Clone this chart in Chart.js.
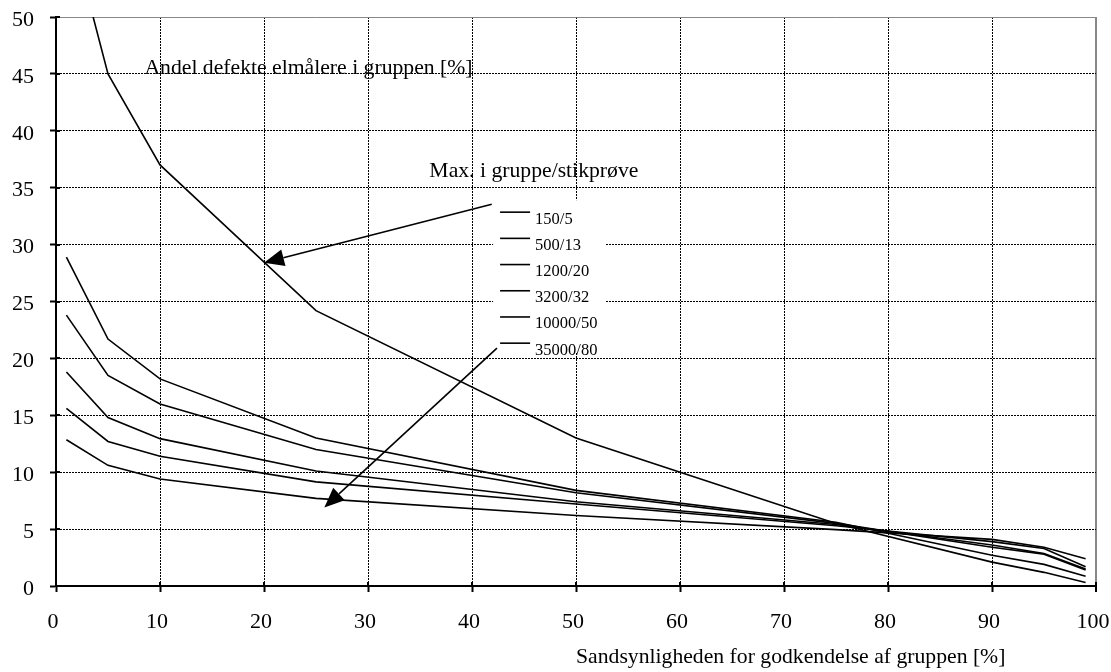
<!DOCTYPE html>
<html>
<head>
<meta charset="utf-8">
<script src="https://cdn.jsdelivr.net/npm/chart.js@4"></script>
<style>
  html, body { margin: 0; padding: 0; background: #fff; }
  #wrap { width: 1111px; height: 672px; }
</style>
</head>
<body>
<div id="wrap"><canvas id="chart"></canvas></div>
<script>
// acceptance probability [%] where the curves are tabulated
const acceptProb = [1, 5, 10, 25, 50, 75, 90, 95, 99];

// max group size / sample size
const groupLabels = ['150/5', '500/13', '1200/20', '3200/32', '10000/50', '35000/80'];

// share of defective meters in the group [%]
const defects150 = [59, 45, 37, 24.2, 13, 5.5, 2.1, 1.2, 0.3];
const defects500 = [28.9, 21.7, 18.2, 13, 8.4, 5.6, 2.7, 1.9, 0.85];
const defects1200 = [23.8, 18.5, 16, 12, 8.2, 5.5, 3.4, 2.8, 1.4];
const defects3200 = [18.8, 14.8, 12.95, 10.1, 7.4, 5.4, 3.6, 2.85, 1.5];
const defects10000 = [15.6, 12.7, 11.4, 9.15, 7.2, 5.3, 3.9, 3.3, 1.7];
const defects35000 = [12.85, 10.6, 9.4, 7.7, 6.2, 4.95, 4.1, 3.4, 2.4];

const allDefects = [defects150, defects500, defects1200, defects3200, defects10000, defects35000];

const xTicks = [0, 10, 20, 30, 40, 50, 60, 70, 80, 90, 100];
const yTicks = [0, 5, 10, 15, 20, 25, 30, 35, 40, 45, 50];

const FONT = '"Liberation Serif", "Times New Roman", serif';

const datasets = allDefects.map((vals, i) => ({
    label: groupLabels[i],
    data: vals.map((v, j) => ({x: acceptProb[j], y: v})),
    borderColor: '#000',
    borderWidth: 1.6,
    pointRadius: 0,
    tension: 0,
    fill: false
}));

function arrow(ctx, x1, y1, x2, y2) {
    const ang = Math.atan2(y2 - y1, x2 - x1);
    const len = 20, half = 8.5;
    const bx = x2 - len * Math.cos(ang), by = y2 - len * Math.sin(ang);
    ctx.beginPath();
    ctx.moveTo(x1, y1);
    ctx.lineTo(bx, by);
    ctx.stroke();
    ctx.beginPath();
    ctx.moveTo(x2, y2);
    ctx.lineTo(bx + half * Math.sin(ang), by - half * Math.cos(ang));
    ctx.lineTo(bx - half * Math.sin(ang), by + half * Math.cos(ang));
    ctx.closePath();
    ctx.fill();
}

// legend box, labels, arrows and axis ticks crossing into the plot
const annotations = {
    id: 'annotations',
    beforeDatasetsDraw(chart) {
        const {ctx, scales: {x, y}} = chart;
        const lx = x.getPixelForValue(42.7);
        const ly = y.getPixelForValue(32.85);
        ctx.save();
        ctx.fillStyle = '#fff';
        ctx.fillRect(lx - 7, ly - 12, 112, 152);
        ctx.restore();
    },
    afterDraw(chart) {
        const {ctx, chartArea: a, scales: {x, y}} = chart;
        ctx.save();

        // small ticks on the inside of the axes
        ctx.strokeStyle = '#000';
        ctx.lineWidth = 2;
        xTicks.forEach(t => {
            const px = Math.round(x.getPixelForValue(t));
            ctx.beginPath();
            ctx.moveTo(px, a.bottom);
            ctx.lineTo(px, a.bottom - 4);
            ctx.stroke();
        });
        yTicks.forEach(t => {
            const py = Math.round(y.getPixelForValue(t));
            ctx.beginPath();
            ctx.moveTo(a.left, py);
            ctx.lineTo(a.left + 4, py);
            ctx.stroke();
        });

        ctx.fillStyle = '#000';
        ctx.textBaseline = 'alphabetic';
        ctx.textAlign = 'left';
        ctx.font = '21.7px ' + FONT;
        ctx.fillText('Andel defekte elmålere i gruppen [%]', x.getPixelForValue(8.5), y.getPixelForValue(45));
        ctx.fillText('Max. i gruppe/stikprøve', x.getPixelForValue(35.9), y.getPixelForValue(35.9));
        ctx.fillText('Sandsynligheden for godkendelse af gruppen [%]', x.getPixelForValue(50), chart.height - 9);

        // legend rows
        const lx = x.getPixelForValue(42.7);
        const ly = y.getPixelForValue(32.85);
        ctx.font = '16.5px ' + FONT;
        ctx.lineWidth = 1.6;
        groupLabels.forEach((lab, i) => {
            const ry = ly + i * 26.2;
            ctx.beginPath();
            ctx.moveTo(lx, ry);
            ctx.lineTo(lx + 30, ry);
            ctx.stroke();
            ctx.fillText(lab, lx + 35, ry + 11.5);
        });

        // arrows from the legend to the curves
        ctx.lineWidth = 1.6;
        arrow(ctx, x.getPixelForValue(41.9), y.getPixelForValue(33.55),
                   x.getPixelForValue(20), y.getPixelForValue(28.4));
        arrow(ctx, x.getPixelForValue(42.4), y.getPixelForValue(20.9),
                   x.getPixelForValue(25.8), y.getPixelForValue(6.9));
        ctx.restore();
    }
};

const config = {
    type: 'line',
    data: {datasets: datasets},
    options: {
        responsive: false,
        animation: false,
        layout: {padding: {top: 17, right: 15, left: 0, bottom: 0}},
        plugins: {
            legend: {display: false},
            tooltip: {enabled: false}
        },
        scales: {
            x: {
                type: 'linear',
                min: 0,
                max: 100,
                afterBuildTicks: s => { s.ticks = xTicks.map(v => ({value: v})); },
                afterFit: s => { s.height = 86; s.paddingLeft = 0; s.paddingRight = 0; },
                ticks: {
                    color: '#000',
                    font: {family: FONT, size: 22},
                    padding: 17,
                    labelOffset: -3,
                    maxRotation: 0
                },
                grid: {
                    color: c => c.tick && c.tick.value === 100 ? '#888' : '#000',
                    lineWidth: c => c.tick && c.tick.value === 100 ? 2 : 1,
                    tickColor: '#000',
                    tickWidth: 2,
                    tickLength: 6
                },
                border: {
                    color: '#000',
                    width: 2,
                    dash: c => c.tick && c.tick.value === 100 ? [] : [2, 1]
                }
            },
            y: {
                type: 'linear',
                min: 0,
                max: 50,
                afterBuildTicks: s => { s.ticks = yTicks.map(v => ({value: v})); },
                afterFit: s => { s.width = 56; s.paddingTop = 0; s.paddingBottom = 0; },
                ticks: {
                    color: '#000',
                    font: {family: FONT, size: 22},
                    padding: 16,
                    labelOffset: 3
                },
                grid: {
                    color: c => c.tick && c.tick.value === 50 ? '#888' : '#000',
                    lineWidth: 1,
                    tickColor: '#000',
                    tickWidth: 2,
                    tickLength: 6
                },
                border: {
                    color: '#000',
                    width: 2,
                    dash: c => c.tick && c.tick.value === 50 ? [] : [2, 1]
                }
            }
        }
    },
    plugins: [annotations]
};

const canvas = document.getElementById('chart');
canvas.width = 1111;
canvas.height = 672;
const myChart = new Chart(canvas, config);
</script>
</body>
</html>
